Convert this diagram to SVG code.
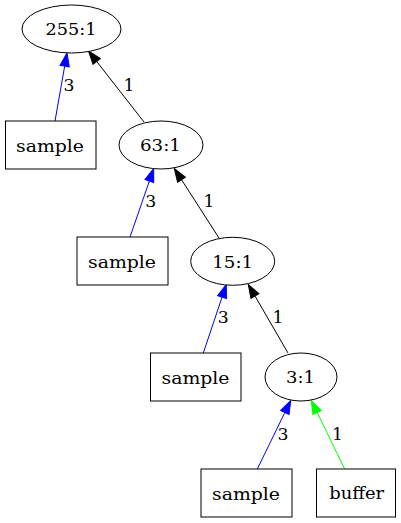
<svg xmlns="http://www.w3.org/2000/svg" width="401" height="523" viewBox="0 0 401 523">
<style>
.n ellipse,.n rect{fill:#fff;stroke:#000;stroke-width:1}
text{font-family:"DejaVu Serif","Liberation Serif",serif;font-size:17px;fill:#000;text-anchor:middle}
.e line{stroke-width:1;fill:none}
.k{stroke:#000}.b{stroke:#00f}.g{stroke:#0f0}
</style>
<defs>
<marker id="ak" markerUnits="userSpaceOnUse" viewBox="-1 -1 15.3 11.3" refX="0" refY="4.65" markerWidth="15.3" markerHeight="11.3" orient="auto"><path d="M0,0L13.3,4.65L0,9.3z" fill="#000" stroke="#000"/></marker>
<marker id="ab" markerUnits="userSpaceOnUse" viewBox="-1 -1 15.3 11.3" refX="0" refY="4.65" markerWidth="15.3" markerHeight="11.3" orient="auto"><path d="M0,0L13.3,4.65L0,9.3z" fill="#00f" stroke="#00f"/></marker>
<marker id="ag" markerUnits="userSpaceOnUse" viewBox="-1 -1 15.3 11.3" refX="0" refY="4.65" markerWidth="15.3" markerHeight="11.3" orient="auto"><path d="M0,0L13.3,4.65L0,9.3z" fill="#0f0" stroke="#0f0"/></marker>
</defs>
<rect width="401" height="523" fill="#fff"/>
<g id="connectors" class="e">
<line class="b" x1="55" y1="121" x2="64.69" y2="66.10" marker-end="url(#ab)"/>
<text x="69" y="91" textLength="11" lengthAdjust="spacingAndGlyphs">3</text>
<line class="k" x1="144" y1="122" x2="96.69" y2="61.48" marker-end="url(#ak)"/>
<text x="129" y="91" textLength="11" lengthAdjust="spacingAndGlyphs">1</text>
<line class="b" x1="130" y1="237" x2="149.35" y2="181.07" marker-end="url(#ab)"/>
<text x="150.7" y="206.7" textLength="11" lengthAdjust="spacingAndGlyphs">3</text>
<line class="k" x1="219" y1="238" x2="181.50" y2="179.69" marker-end="url(#ak)"/>
<text x="209" y="206.7" textLength="11" lengthAdjust="spacingAndGlyphs">1</text>
<line class="b" x1="203.3" y1="353" x2="222.07" y2="297.11" marker-end="url(#ab)"/>
<text x="223.3" y="323.3" textLength="11" lengthAdjust="spacingAndGlyphs">3</text>
<line class="k" x1="288" y1="353" x2="254.97" y2="296.01" marker-end="url(#ak)"/>
<text x="278" y="323.3" textLength="11" lengthAdjust="spacingAndGlyphs">1</text>
<line class="b" x1="257.3" y1="469" x2="284.87" y2="412.45" marker-end="url(#ab)"/>
<text x="283" y="440" textLength="11" lengthAdjust="spacingAndGlyphs">3</text>
<line class="g" x1="344.7" y1="469" x2="317.13" y2="412.45" marker-end="url(#ag)"/>
<text x="337.5" y="440" textLength="11" lengthAdjust="spacingAndGlyphs">1</text>
</g>
<g id="n255" class="n"><ellipse cx="71.5" cy="29" rx="49.5" ry="24"/><text x="71" y="35" textLength="51" lengthAdjust="spacingAndGlyphs">255:1</text></g>
<g id="s1" class="n"><rect x="5.5" y="121" width="90.5" height="48"/><text x="50" y="151.7" textLength="68" lengthAdjust="spacingAndGlyphs">sample</text></g>
<g id="n63" class="n"><ellipse cx="161" cy="145" rx="42" ry="24"/><text x="160.5" y="151.3" textLength="41" lengthAdjust="spacingAndGlyphs">63:1</text></g>
<g id="s2" class="n"><rect x="77" y="237" width="91" height="48"/><text x="122" y="267.5" textLength="68" lengthAdjust="spacingAndGlyphs">sample</text></g>
<g id="n15" class="n"><ellipse cx="232.7" cy="261.3" rx="42" ry="24"/><text x="232.7" y="267.6" textLength="41" lengthAdjust="spacingAndGlyphs">15:1</text></g>
<g id="s3" class="n"><rect x="150.5" y="353" width="90.5" height="48"/><text x="195.5" y="383.5" textLength="68" lengthAdjust="spacingAndGlyphs">sample</text></g>
<g id="n3" class="n"><ellipse cx="301" cy="377" rx="36" ry="24"/><text x="300.5" y="383.3" textLength="29" lengthAdjust="spacingAndGlyphs">3:1</text></g>
<g id="s4" class="n"><rect x="201" y="469" width="91" height="48"/><text x="246" y="499.5" textLength="68" lengthAdjust="spacingAndGlyphs">sample</text></g>
<g id="buf" class="n"><rect x="316.5" y="469" width="79" height="48"/><text x="356.7" y="499" textLength="55" lengthAdjust="spacingAndGlyphs">buffer</text></g>
</svg>
